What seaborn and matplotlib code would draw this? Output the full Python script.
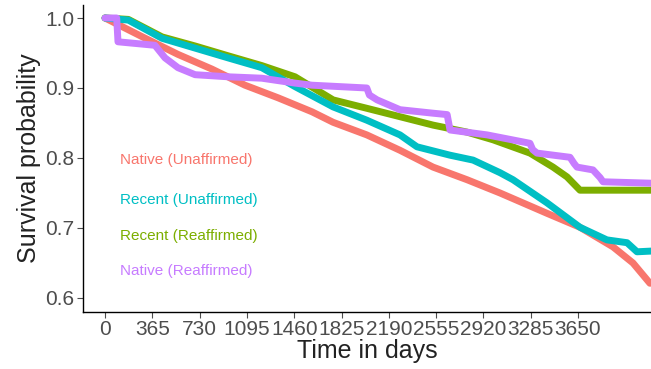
import numpy as np
import pandas as pd
import seaborn as sns
import matplotlib
matplotlib.use("Agg")
import matplotlib.pyplot as plt

# group labels (legend text in the source is hard to read)
groups = ["Native (Unaffirmed)", "Recent (Unaffirmed)", "Recent (Reaffirmed)", "Native (Reaffirmed)"]
colors = ["#F8766D", "#00BFC4", "#7CAE00", "#C77CFF"]

days_red = [0, 300, 563, 825, 1080, 1335, 1597, 1760, 2020, 2276, 2531, 2793, 3048, 3410, 3665, 3920, 4074, 4205]
surv_red = [1.0, 0.972, 0.948, 0.927, 0.904, 0.886, 0.866, 0.851, 0.833, 0.811, 0.787, 0.769, 0.75, 0.721, 0.701, 0.673, 0.65, 0.621]

days_cyan = [0, 180, 440, 695, 950, 1210, 1466, 1760, 2020, 2276, 2407, 2662, 2840, 3048, 3148, 3410, 3665, 3873, 4028, 4105, 4213]
surv_cyan = [1.0, 0.997, 0.971, 0.957, 0.943, 0.929, 0.902, 0.873, 0.854, 0.833, 0.816, 0.804, 0.797, 0.779, 0.769, 0.736, 0.701, 0.683, 0.679, 0.666, 0.667]

days_green = [0, 180, 440, 695, 950, 1210, 1466, 1760, 2020, 2276, 2531, 2793, 2994, 3279, 3457, 3565, 3665, 4213]
surv_green = [1.0, 0.998, 0.973, 0.96, 0.946, 0.932, 0.916, 0.883, 0.871, 0.859, 0.847, 0.837, 0.826, 0.807, 0.787, 0.773, 0.754, 0.754]

days_purple = [0, 90, 100, 385, 463, 563, 695, 950, 1210, 1466, 1597, 2020, 2040, 2100, 2276, 2531, 2640,
               2662, 2948, 3279, 3300, 3333, 3588, 3620, 3642, 3765, 3820, 3843, 4213]
surv_purple = [1.0, 1.0, 0.966, 0.961, 0.943, 0.929, 0.919, 0.916, 0.914, 0.907, 0.904, 0.9, 0.89, 0.883, 0.869, 0.864, 0.862,
               0.84, 0.833, 0.821, 0.812, 0.807, 0.801, 0.792, 0.787, 0.783, 0.772, 0.766, 0.764]

x_ticks = list(range(0, 3651, 365))
y_ticks = [0.6, 0.7, 0.8, 0.9, 1.0]
label_y = [0.495, 0.365, 0.248, 0.134]  # legend rows, axes fraction

frames = []
for name, d, s in zip(groups,
                      [days_red, days_cyan, days_green, days_purple],
                      [surv_red, surv_cyan, surv_green, surv_purple]):
    frames.append(pd.DataFrame({"time": d, "surv": s, "group": name}))
df = pd.concat(frames, ignore_index=True)

sns.set_style("white")
plt.rcParams['font.family'] = ['Liberation Sans', 'DejaVu Sans']

fig = plt.figure(figsize=(6.51, 3.69), dpi=100)
ax = fig.add_axes([0.1275, 0.1545, 0.8725, 0.832])

# ggplot draws groups in factor order
draw_order = [0, 2, 1, 3]
for i in draw_order:
    sub = df[df["group"] == groups[i]]
    sns.lineplot(data=sub, x="time", y="surv", color=colors[i], linewidth=5,
                 estimator=None, sort=False, ax=ax, legend=False)

ax.set_xlim(-170, 4213)
ax.set_ylim(0.58, 1.0186)
ax.set_xticks(x_ticks)
ax.set_yticks(y_ticks)
ax.set_yticklabels([f"{v:.1f}" for v in y_ticks])
ax.tick_params(axis="both", labelsize=15, colors="#4D4D4D", length=4, width=0.8,
               direction="out", bottom=True, left=True, pad=2)
ax.set_xlabel("Time in days", fontsize=18, labelpad=0, color="#222222")
ax.set_ylabel("Survival probability", fontsize=18, labelpad=3, color="#222222")
for side in ["top", "right"]:
    ax.spines[side].set_visible(False)
for side in ["left", "bottom"]:
    ax.spines[side].set_color("black")
    ax.spines[side].set_linewidth(1.0)

for name, c, yy in zip(groups, colors, label_y):
    ax.text(0.065, yy, name, transform=ax.transAxes, color=c, fontsize=11,
            va="center", ha="left")

fig.savefig("out.png", dpi=100)
